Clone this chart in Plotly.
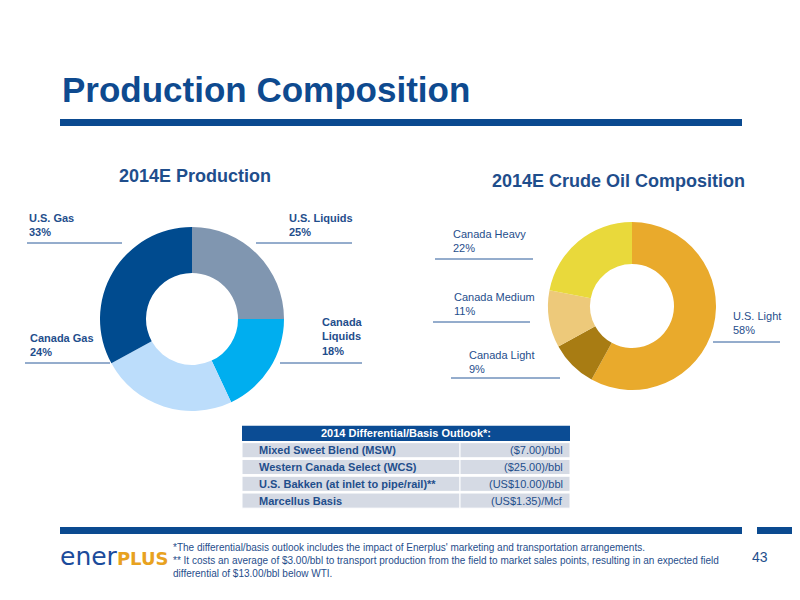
import plotly.graph_objects as go

# Data
prod_labels = ["U.S. Liquids", "Canada Liquids", "Canada Gas", "U.S. Gas"]
prod_values = [25, 18, 24, 33]
prod_colors = ["#8096B0", "#00AEEF", "#BCDDFB", "#004B8F"]

oil_labels = ["U.S. Light", "Canada Light", "Canada Medium", "Canada Heavy"]
oil_values = [58, 9, 11, 22]
oil_colors = ["#E9AA2C", "#A87C13", "#EDC97A", "#E9D93B"]

table_title = "2014 Differential/Basis Outlook*:"
table_items = ["Mixed Sweet Blend (MSW)", "Western Canada Select (WCS)",
               "U.S. Bakken (at inlet to pipe/rail)**", "Marcellus Basis"]
table_values = ["($7.00)/bbl", "($25.00)/bbl", "(US$10.00)/bbl", "(US$1.35)/Mcf"]

footnotes = [
    "*The differential/basis outlook includes the impact of Enerplus' marketing and transportation arrangements.",
    "** It costs an average of $3.00/bbl to transport production from the field to market sales points, resulting in an expected field",
    "differential of $13.00/bbl below WTI.",
]

# the page body has an 8px margin, so the figure is 792x592 and offset by 8px
OFF = 8
W, H = 800 - OFF, 600 - OFF
BLUE = "#0E4A8F"
TXT = "#1F4E8C"
FONT = "Liberation Sans"
COL1, COL2 = 218, 110


def px(x):
    return (x - OFF) / W


def py(y):
    return 1 - (y - OFF) / H


fig = go.Figure()

# Donut charts
fig.add_trace(go.Pie(
    labels=prod_labels, values=prod_values, hole=0.5, sort=False,
    direction="clockwise", rotation=0, textinfo="none", hoverinfo="label+percent",
    marker=dict(colors=prod_colors, line=dict(width=0)),
    domain=dict(x=[px(100), px(284)], y=[py(411), py(227)]),
    showlegend=False,
))
fig.add_trace(go.Pie(
    labels=oil_labels, values=oil_values, hole=0.5, sort=False,
    direction="clockwise", rotation=0, textinfo="none", hoverinfo="label+percent",
    marker=dict(colors=oil_colors, line=dict(width=0)),
    domain=dict(x=[px(548), px(716)], y=[py(390), py(222)]),
    showlegend=False,
))

# Outlook table drawn as bars on a hidden axis
fig.add_trace(go.Bar(
    y=[table_title], x=[COL1 + COL2], base=0, orientation="h",
    marker=dict(color="#0B4C94", line=dict(width=0)), hoverinfo="skip",
))
fig.add_trace(go.Bar(
    y=table_items, x=[COL1] * len(table_items), base=0, orientation="h",
    marker=dict(color="#D5DAE4", line=dict(color="white", width=1)), hoverinfo="skip",
))
fig.add_trace(go.Bar(
    y=table_items, x=[COL2] * len(table_items), base=COL1, orientation="h",
    marker=dict(color="#D5DAE4", line=dict(color="white", width=1)), hoverinfo="skip",
))

shapes = []
annotations = []

# header / footer bars
for x0, x1, y0, y1 in [(60, 742, 119, 126), (60, 742, 527, 534), (757, 800, 527, 534)]:
    shapes.append(dict(type="rect", xref="paper", yref="paper", x0=px(x0), x1=px(x1),
                       y0=py(y1), y1=py(y0), fillcolor="#0B4A90", line=dict(width=0)))

annotations.append(dict(text="<b>Production Composition</b>", x=px(60), y=py(90),
                        xanchor="left", yanchor="middle",
                        font=dict(family=FONT, size=35, color=BLUE)))
annotations.append(dict(text="<b>2014E Production</b>", x=px(195), y=py(176),
                        xanchor="center", yanchor="middle",
                        font=dict(family=FONT, size=18, color=TXT)))
annotations.append(dict(text="<b>2014E Crude Oil Composition</b>", x=px(618), y=py(181),
                        xanchor="center", yanchor="middle",
                        font=dict(family=FONT, size=18, color=TXT)))


def label(name, val, x, y, line_x0, line_x1, line_y, bold):
    lines = name.split("\n") + [f"{val}%"]
    if bold:
        lines = ["<b>" + s + "</b>" for s in lines]
    annotations.append(dict(text="<br>".join(lines), x=px(x), y=py(y), xanchor="left",
                            yanchor="bottom", align="left",
                            font=dict(family=FONT, size=11, color=TXT)))
    shapes.append(dict(type="line", xref="paper", yref="paper", x0=px(line_x0), x1=px(line_x1),
                       y0=py(line_y), y1=py(line_y), line=dict(color="#2A5A9A", width=1)))


# left donut labels
label(prod_labels[3], prod_values[3], 27, 240, 27, 122, 243, True)
label(prod_labels[0], prod_values[0], 287, 240, 256, 352, 243, True)
label("Canada\nLiquids", prod_values[1], 320, 359, 280, 362, 363, True)
label(prod_labels[2], prod_values[2], 28, 360, 25, 110, 363, True)

# right donut labels
label(oil_labels[3], oil_values[3], 451, 256, 435, 533, 259, False)
label(oil_labels[2], oil_values[2], 452, 319, 433, 530, 322, False)
label(oil_labels[1], oil_values[1], 467, 377, 451, 560, 378, False)
label(oil_labels[0], oil_values[0], 731, 338, 713, 780, 342, False)

# table texts (data coordinates of the table axis)
annotations.append(dict(text="<b>" + table_title + "</b>", x=(COL1 + COL2) / 2, y=table_title,
                        xref="x", yref="y", xanchor="center", yanchor="middle",
                        font=dict(family=FONT, size=11, color="white")))
for item, val in zip(table_items, table_values):
    annotations.append(dict(text="<b>" + item + "</b>", x=15, y=item, xref="x", yref="y",
                            xanchor="left", yanchor="middle",
                            font=dict(family=FONT, size=11, color=TXT)))
    annotations.append(dict(text=val, x=COL1 + COL2 - 5, y=item, xref="x", yref="y",
                            xanchor="right", yanchor="middle",
                            font=dict(family=FONT, size=11, color=TXT)))

# footer
annotations.append(dict(
    text="ener<span style='color:#E8A21F;font-size:18px'><b>PLUS</b></span>",
    x=px(58), y=py(556), xanchor="left", yanchor="middle",
    font=dict(family="DejaVu Sans", size=25, color="#1B4B9B")))
for i, note in enumerate(footnotes):
    annotations.append(dict(text=note, x=px(171), y=py(547 + 13 * i),
                            xanchor="left", yanchor="middle", align="left",
                            font=dict(family=FONT, size=10, color=TXT)))
annotations.append(dict(text="43", x=px(750), y=py(557), xanchor="left", yanchor="middle",
                        font=dict(family=FONT, size=14, color=TXT)))

for a in annotations:
    a.setdefault("showarrow", False)
    a.setdefault("xref", "paper")
    a.setdefault("yref", "paper")

fig.update_layout(
    width=W, height=H,
    margin=dict(l=0, r=0, t=0, b=0),
    paper_bgcolor="white", plot_bgcolor="white",
    shapes=shapes, annotations=annotations,
    showlegend=False,
    barmode="overlay", bargap=0.1,
    xaxis=dict(domain=[px(242), px(570)], range=[0, COL1 + COL2], visible=False,
               fixedrange=True),
    yaxis=dict(domain=[py(509), py(425)], categoryorder="array",
               categoryarray=[table_title] + table_items,
               range=[len(table_items) + 0.5, -0.5], visible=False, fixedrange=True),
)

fig.write_html("out.html")
